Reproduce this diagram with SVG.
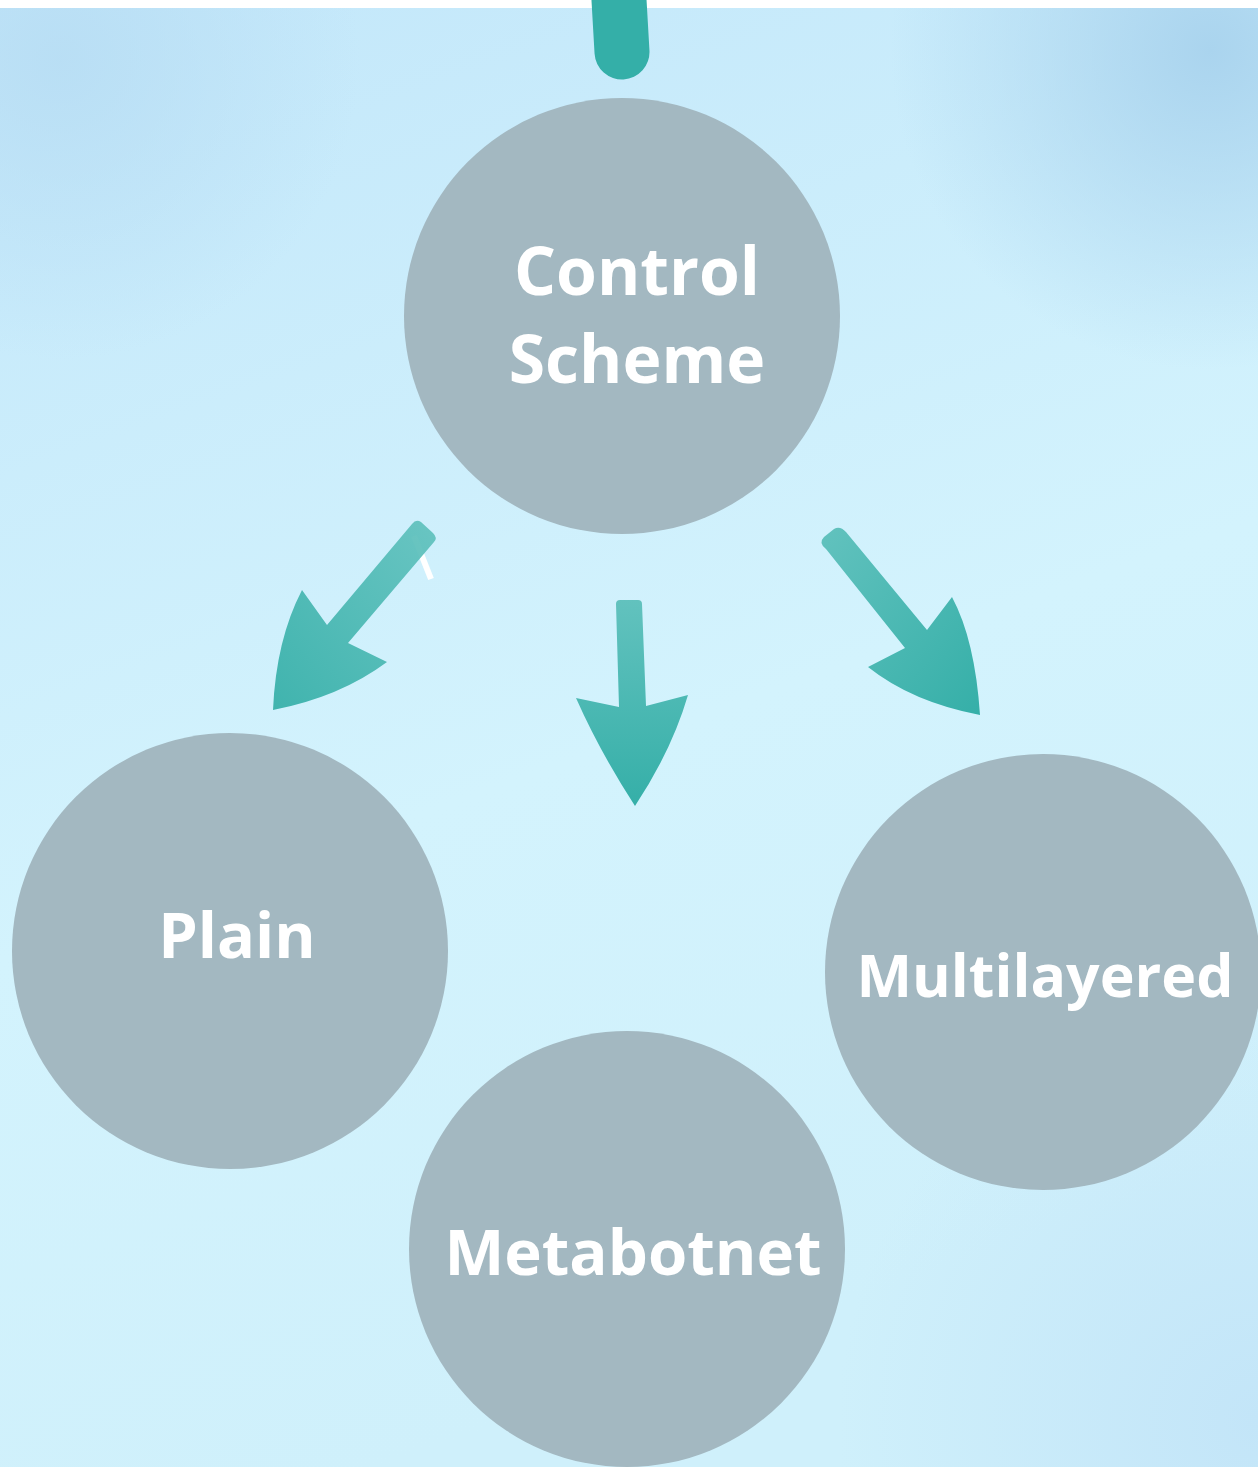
<svg xmlns="http://www.w3.org/2000/svg" width="1258" height="1469" viewBox="0 0 1258 1469">
<defs>
<linearGradient id="bg" x1="0" y1="0" x2="0.3" y2="1">
<stop offset="0" stop-color="#c3e7fa"/>
<stop offset="0.6" stop-color="#d3f3fd"/>
<stop offset="1" stop-color="#cff0fb"/>
</linearGradient>
<radialGradient id="tr" cx="1210" cy="50" r="320" gradientUnits="userSpaceOnUse">
<stop offset="0" stop-color="#aad4ee" stop-opacity="1"/>
<stop offset="1" stop-color="#aad4ee" stop-opacity="0"/>
</radialGradient>
<radialGradient id="tl" cx="60" cy="60" r="300" gradientUnits="userSpaceOnUse">
<stop offset="0" stop-color="#b6dcf3" stop-opacity="0.8"/>
<stop offset="1" stop-color="#b6dcf3" stop-opacity="0"/>
</radialGradient>
<radialGradient id="br" cx="1258" cy="1420" r="420" gradientUnits="userSpaceOnUse">
<stop offset="0" stop-color="#c3e5f8" stop-opacity="1"/>
<stop offset="1" stop-color="#c3e5f8" stop-opacity="0"/>
</radialGradient>
<linearGradient id="ag" x1="0" y1="0" x2="0" y2="1">
<stop offset="0" stop-color="#62c2be"/>
<stop offset="1" stop-color="#35afa8"/>
</linearGradient>
<linearGradient id="agL" x1="1" y1="0" x2="0" y2="1">
<stop offset="0" stop-color="#62c2be"/>
<stop offset="1" stop-color="#35afa8"/>
</linearGradient>
<linearGradient id="agR" x1="0" y1="0" x2="1" y2="1">
<stop offset="0" stop-color="#62c2be"/>
<stop offset="1" stop-color="#35afa8"/>
</linearGradient>
<style>
.node circle { fill: #a3b8c1; }
.node text { fill: #ffffff; font-family: "Open Sans", "Noto Sans", "DejaVu Sans", sans-serif; font-weight: 700; font-size: 66px; text-anchor: middle; }
</style>
</defs>
<rect x="0" y="0" width="1258" height="1469" fill="url(#bg)"/>
<rect x="0" y="0" width="1258" height="1469" fill="url(#tr)"/>
<rect x="0" y="0" width="1258" height="1469" fill="url(#tl)"/>
<rect x="0" y="0" width="1258" height="1469" fill="url(#br)"/>
<rect x="0" y="0" width="1258" height="8" fill="#ffffff"/>
<rect x="0" y="1467" width="1258" height="2" fill="#ffffff"/>

<g id="connectors">
<line x1="619" y1="0" x2="622" y2="52" stroke="#34afa8" stroke-width="55" stroke-linecap="round"/>
<line x1="414" y1="536" x2="431" y2="579" stroke="#ffffff" stroke-width="6"/>
<path d="M327,625 L412,524 Q416,518.5 421,522 L433,533 Q438,538 434,542 L348,643 L387,662 Q340,697 273,710 Q276,640 302,590 Z" fill="url(#agL)" opacity="0.93"/>
<path d="M616,604 Q616,600 620,600 L638,600 Q642,600 642,604 L646,706 L688,695 Q672,750 635,806 Q600,752 576,698 L619,707 Z" fill="url(#ag)"/>
<path d="M826,549 L905,648 L868,667 Q912,702 980,715 Q975,640 952,597 L927,630 L846,532 Q840,525.5 834,529 L824,537 Q818,543 826,549 Z" fill="url(#agR)"/>
</g>

<g id="node-control" class="node">
<circle cx="622" cy="316" r="218"/>
<text x="637" y="295">Control</text>
<text x="637" y="383">Scheme</text>
</g>
<g id="node-plain" class="node">
<circle cx="230" cy="951" r="218"/>
<text x="237" y="958" style="font-size:63px">Plain</text>
</g>
<g id="node-multilayered" class="node">
<circle cx="1043" cy="972" r="218"/>
<text x="1045" y="997" style="font-size:59px">Multilayered</text>
</g>
<g id="node-metabotnet" class="node">
<circle cx="627" cy="1249" r="218"/>
<text x="633" y="1275" style="font-size:63.5px">Metabotnet</text>
</g>
</svg>
